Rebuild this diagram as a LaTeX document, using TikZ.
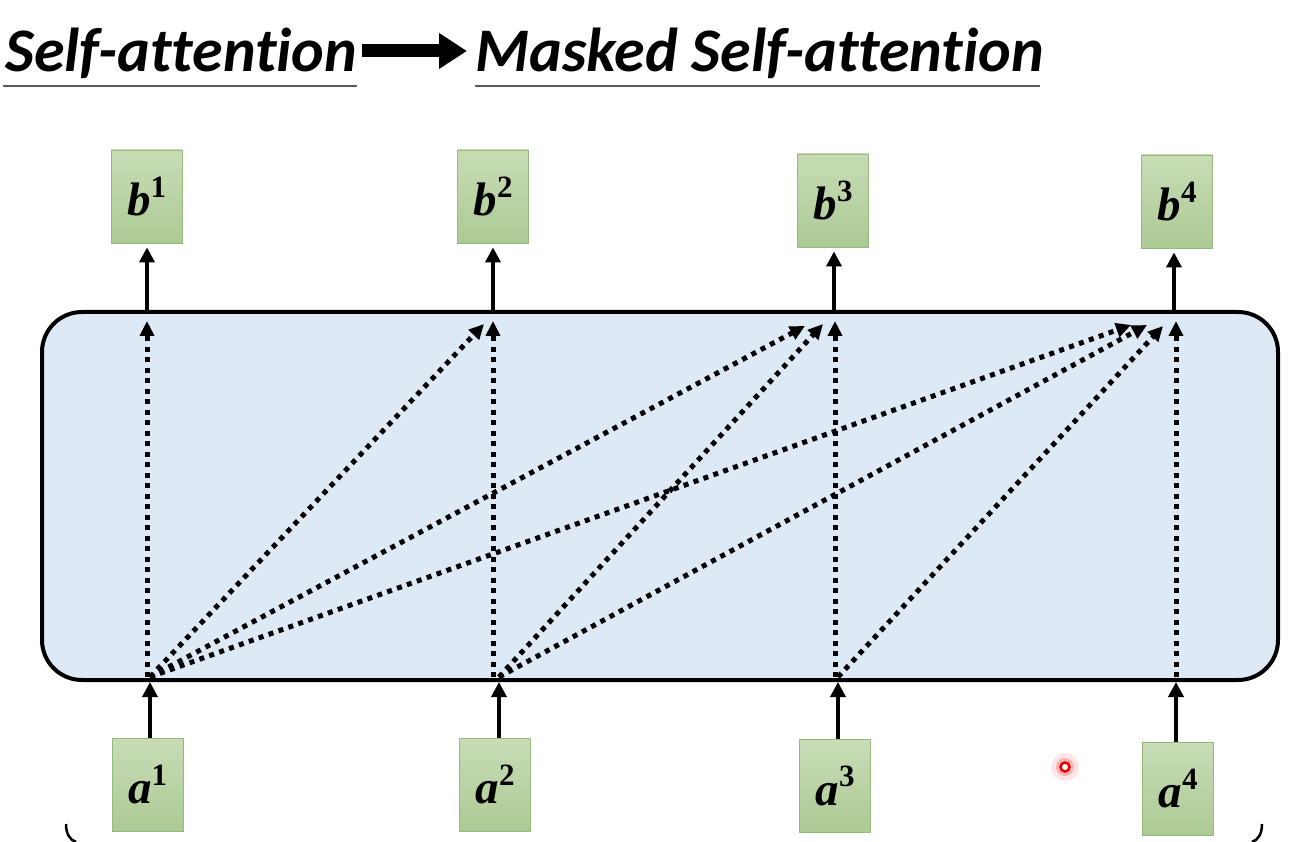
\documentclass[tikz,border=0pt]{standalone}
\usepackage{fontspec}
\newfontfamily\titlefont{Carlito}[Ligatures=NoCommon]
\newfontfamily\vecfont{Liberation Serif}
\usetikzlibrary{arrows.meta}
\definecolor{boxblue}{RGB}{221,233,245}
\definecolor{gtop}{RGB}{200,220,182}
\definecolor{gbot}{RGB}{172,202,148}
\definecolor{gedge}{RGB}{150,185,125}
\definecolor{uline}{RGB}{90,90,90}
\newcommand{\vlab}[2]{{\vecfont\bfseries\itshape #1}\raisebox{0.4em}{\vecfont\bfseries\fontsize{31}{31}\selectfont #2}}
\tikzset{
  vec/.style={draw=gedge, line width=0.8pt, top color=gtop, bottom color=gbot,
    minimum width=71pt, minimum height=93pt, inner sep=0pt,
    font=\fontsize{47}{47}\selectfont},
  solidarr/.style={line width=3.5pt, -{Triangle[length=15pt,width=15pt]}},
  dotarr/.style={line width=5pt, dash pattern=on 5pt off 5.5pt,
    -{Triangle[length=15pt,width=14pt]}},
  ttl/.style={font=\titlefont\bfseries\itshape\fontsize{62}{62}\selectfont,
    inner sep=0pt, anchor=base west},
  uln/.style={draw=uline, line width=2pt},
}
\begin{document}
\begin{tikzpicture}[x=1pt,y=-1pt]
\useasboundingbox[fill=white] (0,0) rectangle (1304,842);

% title
\node[ttl] (t1) at (5,72) {Self-attention};
\node[ttl] (t2) at (475,72) {Masked Self-attention};
\draw[uln] (3,86) -- (357,86);
\draw[uln] (475,86) -- (1040,86);
\coordinate (ar1) at (362,51);
\coordinate (ar2) at (467,51);
\draw[line width=13pt, -{Triangle[length=28pt,width=34pt]}] (ar1) -- (ar2);

% big box
\node[draw, line width=4pt, rounded corners=40pt, fill=boxblue,
  minimum width=1236pt, minimum height=368pt, inner sep=0pt] (att) at (660,496) {};

% outputs
\node[vec] (b1) at (146.5,196.5) {\vlab{b}{1}};
\node[vec] (b2) at (493,196.5) {\vlab{b}{2}};
\node[vec] (b3) at (833,200.5) {\vlab{b}{3}};
\node[vec] (b4) at (1177,201.5) {\vlab{b}{4}};
% inputs
\node[vec] (a1) at (147.5,784.5) {\vlab{a}{1}};
\node[vec] (a2) at (495,784.5) {\vlab{a}{2}};
\node[vec] (a3) at (835,786) {\vlab{a}{3}};
\node[vec] (a4) at (1178,788.5) {\vlab{a}{4}};

% sources at box bottom
\coordinate (s1) at (150,677);
\coordinate (s2) at (499,677);
\coordinate (s3) at (838,677);
\coordinate (s4) at (1176,677);
% vertical targets
\coordinate (v1) at (147,321);
\coordinate (v2) at (493,321);
\coordinate (v3) at (835,321);
\coordinate (v4) at (1176,321);
% diagonal targets
\coordinate (d12) at (484,324);
\coordinate (d13) at (805,326);
\coordinate (d23) at (823,324);
\coordinate (d14) at (1131,325);
\coordinate (d24) at (1147,325);
\coordinate (d34) at (1163,326);

% solid arrows
\coordinate (o1) at (147,312);
\coordinate (o2) at (493,312);
\coordinate (o3) at (834,312);
\coordinate (o4) at (1174,312);
\draw[solidarr] (o1) -- ([yshift=-4pt]b1.south -| o1);
\draw[solidarr] (o2) -- ([yshift=-4pt]b2.south -| o2);
\draw[solidarr] (o3) -- ([yshift=-4pt]b3.south -| o3);
\draw[solidarr] (o4) -- ([yshift=-4pt]b4.south -| o4);

\draw[solidarr] (a1.north -| s1) -- ([yshift=-5pt]s1);
\draw[solidarr] (a2.north -| s2) -- ([yshift=-5pt]s2);
\draw[solidarr] (a3.north -| s3) -- ([yshift=-5pt]s3);
\draw[solidarr] (a4.north -| s4) -- ([yshift=-5pt]s4);

% dotted attention arrows
\draw[dotarr] (s1 -| v1) -- (v1);
\draw[dotarr] (s2 -| v2) -- (v2);
\draw[dotarr] (s3 -| v3) -- (v3);
\draw[dotarr] (s4) -- (v4);
\draw[dotarr] (s1) -- (d12);
\draw[dotarr] (s1) -- (d13);
\draw[dotarr] (s1) -- (d14);
\draw[dotarr] (s2) -- (d23);
\draw[dotarr] (s2) -- (d24);
\draw[dotarr] (s3) -- (d34);

% cursor dot
\coordinate (cur) at (1065,767);
\fill[red!10] (cur) circle (14pt);
\fill[red!30] (cur) circle (9pt);
\draw[red!90!black, line width=2.5pt, fill=white] (cur) circle (4.5pt);

% brace ends
\coordinate (bl) at (66,824);
\coordinate (br) at (1262,824);
\draw[line width=2.5pt] (bl) .. controls (66,834) and (70,840) .. (76,842);
\draw[line width=2.5pt] (br) .. controls (1262,834) and (1258,840) .. (1252,842);
\end{tikzpicture}
\end{document}
